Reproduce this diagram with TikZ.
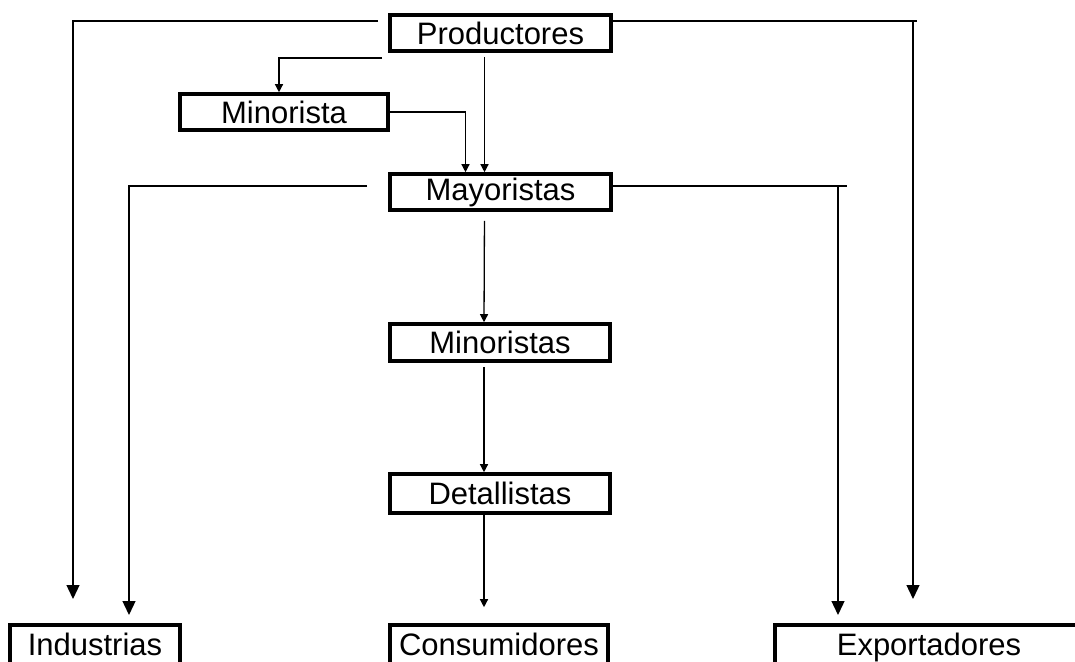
\documentclass[tikz,border=0pt]{standalone}
\usepackage{fontspec}
\setmainfont{Liberation Sans}
\usetikzlibrary{arrows.meta,calc}
\begin{document}
\begin{tikzpicture}[x=1pt,y=-1pt,
  box/.style={draw=black,line width=3.6pt,inner sep=0pt,fill=white,
    font=\fontsize{31}{37}\selectfont},
  bottombox/.style={box,minimum height=44pt,text depth=5pt,text height=22pt},
  conn/.style={draw=black,line width=1.3pt},
  arrsm/.style={conn,-{Triangle[length=8pt,width=8pt]}},
  arrbig/.style={conn,-{Triangle[length=14pt,width=13pt]}}]
\clip (0,0) rectangle (1075,661);
\fill[white] (0,0) rectangle (1075,661);
% nodes
\node[box,minimum width=221pt,minimum height=36pt] (prod) at (500.5,33) {Productores};
\node[box,minimum width=208pt,minimum height=36pt] (mino) at (284,112) {Minorista};
\node[box,minimum width=221pt,minimum height=36pt] (mayo) at (500.5,192) {Mayoristas};
\node[box,minimum width=220pt,minimum height=37pt] (minos) at (500,342.5) {Minoristas};
\node[box,minimum width=220pt,minimum height=39pt] (det) at (500,493.5) {Detallistas};
\node[bottombox,minimum width=170pt] (ind) at (95,647) {Industrias};
\node[bottombox,minimum width=218pt] (cons) at (499,647) {Consumidores};
\node[bottombox,minimum width=308pt] (exp) at (929,647) {Exportadores};
% free ends
\coordinate (pL) at (378,21);
\coordinate (pM) at (382,58);
\coordinate (indA) at (73,599);
\coordinate (mL) at (367,186);
\coordinate (indB) at (129,615);
\coordinate (pR) at (917,21);
\coordinate (expA) at (913,599);
\coordinate (mR) at (847,186);
\coordinate (expB) at (838,615);
% connectors
\draw[arrbig] (pL) -| (indA);
\draw[arrsm] (pM) -| ([xshift=-5pt]mino.north);
\draw[arrsm] (mino.east) -| ([xshift=-35pt]mayo.north);
\draw[arrsm,shorten <=4pt] ([xshift=-16pt]prod.south) -- ([xshift=-16pt]mayo.north);
\draw[arrbig] (mL) -| (indB);
\draw[conn] (prod.east |- pR) -- (pR);
\draw[arrbig] (pR -| expA) -- (expA);
\draw[conn] (mayo.east |- mR) -- (mR);
\draw[arrbig] (mR -| expB) -- (expB);
\draw[arrsm,shorten <=9pt] ([xshift=-16pt]mayo.south) -- ([xshift=-16pt]minos.north);
\draw[arrsm,shorten <=4pt] ([xshift=-16pt]minos.south) -- ([xshift=-16pt]det.north);
\draw[arrsm,shorten >=16pt] ([xshift=-16pt]det.south) -- ([xshift=-15pt]cons.north);
\end{tikzpicture}
\end{document}
